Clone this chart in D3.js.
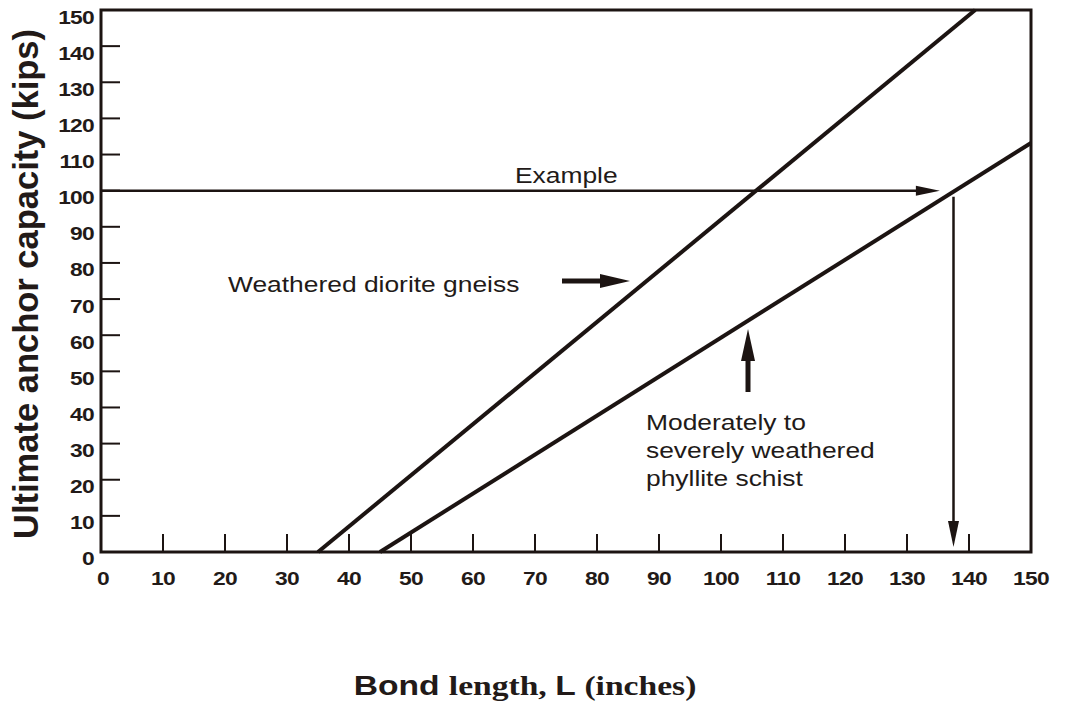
<!DOCTYPE html>
<html>
<head>
<meta charset="utf-8">
<script src="https://cdn.jsdelivr.net/npm/d3@7"></script>
<style>
  body { margin: 0; background: #fff; }
  svg text { fill: #221a18; }
</style>
</head>
<body>
<div id="chart"></div>
<script>
const width = 1065, height = 703;
const margin = {top: 10, right: 34, bottom: 151, left: 101};

// data
const xTickValues = [0, 10, 20, 30, 40, 50, 60, 70, 80, 90, 100, 110, 120, 130, 140, 150];
const yTickValues = [0, 10, 20, 30, 40, 50, 60, 70, 80, 90, 100, 110, 120, 130, 140, 150];
const gneissLine = [{L: 35, P: 0}, {L: 141, P: 150}];
const schistLine = [{L: 45, P: 0}, {L: 150, P: 113.2}];
const exampleLoad = 100;
const exampleArrowTip = 135.3;
const exampleBond = 137.5;

const ink = '#1c1412';
const sans = 'Liberation Sans, Arial, sans-serif';
const serif = 'Liberation Serif, serif';
// the scanned figure is a bit wider than tall, so text is stretched sideways
const stretch = 1.2;

let svg = d3.select('#chart').append('svg')
  .attr('width', width)
  .attr('height', height);

let xScale = d3.scaleLinear().domain([0, 150]).range([margin.left, width - margin.right]);
let yScale = d3.scaleLinear().domain([0, 150]).range([height - margin.bottom, margin.top]);

const x0 = xScale(0), x1 = xScale(150), y0 = yScale(0), y1 = yScale(150);

let place = (x, y) => `translate(${x},${y}) scale(${stretch},1)`;

// frame
svg.append('path')
  .attr('d', `M${x0},${y0}H${x1}V${y1}H${x0}Z`)
  .style('fill', 'none')
  .style('stroke', ink)
  .style('stroke-width', 3);

// y ticks (inside)
svg.append('g')
  .selectAll('line')
  .data(yTickValues.filter(d => d > 0 && d < 150))
  .enter()
  .append('line')
  .attr('x1', x0).attr('x2', x0 + 19)
  .attr('y1', d => yScale(d)).attr('y2', d => yScale(d))
  .style('stroke', ink).style('stroke-width', 2);

// x ticks (upward)
svg.append('g')
  .selectAll('line')
  .data(xTickValues.filter(d => d > 0 && d < 150))
  .enter()
  .append('line')
  .attr('x1', d => xScale(d)).attr('x2', d => xScale(d))
  .attr('y1', y0).attr('y2', y0 - 18)
  .style('stroke', ink).style('stroke-width', 2);

svg.append('g')
  .selectAll('text')
  .data(yTickValues)
  .enter()
  .append('text')
  .attr('transform', d => place(x0 - 7, d === 0 ? yScale(d) + 13 : yScale(d) + 13.5))
  .attr('text-anchor', 'end')
  .style('font-family', sans)
  .style('font-weight', 'bold')
  .style('font-size', '19px')
  .style('letter-spacing', '-0.6px')
  .text(d => d);

svg.append('g')
  .selectAll('text')
  .data(xTickValues)
  .enter()
  .append('text')
  .attr('transform', d => place(d === 0 ? xScale(d) + 2 : xScale(d), y0 + 33))
  .attr('text-anchor', 'middle')
  .style('font-family', sans)
  .style('font-weight', 'bold')
  .style('font-size', '19px')
  .style('letter-spacing', '-0.6px')
  .text(d => d);

// capacity lines
let line = d3.line().x(d => xScale(d.L)).y(d => yScale(d.P));

svg.append('g')
  .selectAll('path')
  .data([gneissLine, schistLine])
  .enter()
  .append('path')
  .attr('d', d => line(d))
  .style('fill', 'none')
  .style('stroke', ink)
  .style('stroke-width', 4);

// example arrows
const ey = yScale(exampleLoad);
svg.append('line')
  .attr('x1', x0).attr('x2', xScale(exampleArrowTip) - 20)
  .attr('y1', ey).attr('y2', ey)
  .style('stroke', ink).style('stroke-width', 2.5);
svg.append('path')
  .attr('d', `M${xScale(exampleArrowTip)},${ey}l-24,-5v10z`)
  .style('fill', ink);

const ex = xScale(exampleBond);
svg.append('line')
  .attr('x1', ex).attr('x2', ex)
  .attr('y1', yScale(98.3)).attr('y2', y0 - 24)
  .style('stroke', ink).style('stroke-width', 2.5);
svg.append('path')
  .attr('d', `M${ex},${y0 - 5}l-5.5,-26h11z`)
  .style('fill', ink);

svg.append('text')
  .attr('transform', place(515, 183))
  .style('font-family', sans)
  .style('font-size', '22px')
  .text('Example');

// gneiss label + arrow
svg.append('text')
  .attr('transform', place(228, 292))
  .style('font-family', sans)
  .style('font-size', '22px')
  .text('Weathered diorite gneiss');
svg.append('line')
  .attr('x1', 562).attr('x2', 604)
  .attr('y1', 281).attr('y2', 281)
  .style('stroke', ink).style('stroke-width', 5);
svg.append('path')
  .attr('d', 'M630,281l-30,-7v14z')
  .style('fill', ink);

// schist label + arrow
svg.append('line')
  .attr('x1', 748).attr('x2', 748)
  .attr('y1', 392).attr('y2', 356)
  .style('stroke', ink).style('stroke-width', 5);
svg.append('path')
  .attr('d', 'M748,329l-7,32h14z')
  .style('fill', ink);

const schistText = svg.append('text')
  .attr('transform', place(646, 430))
  .style('font-family', sans)
  .style('font-size', '22px');
['Moderately to', 'severely weathered', 'phyllite schist'].forEach((t, i) => {
  schistText.append('tspan')
    .attr('x', 0)
    .attr('dy', i === 0 ? 0 : 28)
    .text(t);
});

// axis titles
svg.append('text')
  .attr('transform', `translate(38, 284) rotate(-90) scale(1,${stretch})`)
  .attr('text-anchor', 'middle')
  .attr('textLength', 510)
  .attr('lengthAdjust', 'spacingAndGlyphs')
  .style('font-family', sans)
  .style('font-weight', 'bold')
  .style('font-size', '29px')
  .text('Ultimate anchor capacity (kips)');

let xTitle = svg.append('text')
  .attr('transform', place(525, 695))
  .attr('text-anchor', 'middle')
  .style('font-weight', 'bold')
  .style('font-size', '28px');
xTitle.append('tspan').style('font-family', sans).text('Bond ');
xTitle.append('tspan').style('font-family', serif).text('length, ');
xTitle.append('tspan').style('font-family', sans).text('L ');
xTitle.append('tspan').style('font-family', serif).text('(inches)');
</script>
</body>
</html>
